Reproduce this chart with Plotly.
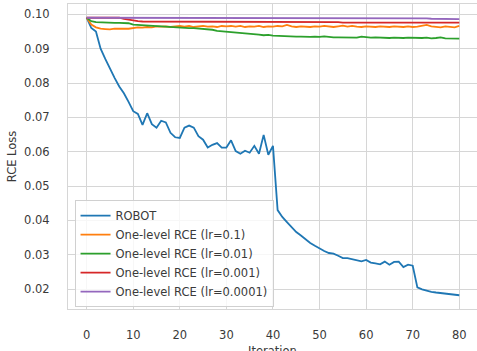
import plotly.graph_objects as go

iterations = list(range(81))

robot = [0.0990, 0.0960, 0.0950, 0.0900, 0.0870, 0.0840, 0.0815, 0.0790, 0.0770, 0.0745,
         0.0718, 0.0710, 0.0678, 0.0712, 0.0680, 0.0670, 0.0690, 0.0685, 0.0655, 0.0642,
         0.0640, 0.0670, 0.0676, 0.0670, 0.0645, 0.0635, 0.0612, 0.0620, 0.0625, 0.0612,
         0.0612, 0.0633, 0.0602, 0.0594, 0.0603, 0.0597, 0.0617, 0.0594, 0.0649, 0.0591,
         0.0617, 0.0430, 0.0410, 0.0395, 0.0380, 0.0366, 0.0356, 0.0345, 0.0334, 0.0326,
         0.0318, 0.0311, 0.0305, 0.0303, 0.0297, 0.0290, 0.0290, 0.0287, 0.0284, 0.0281,
         0.0285, 0.0277, 0.0275, 0.0272, 0.0280, 0.0271, 0.0279, 0.0280, 0.0264, 0.0271,
         0.0268, 0.0205, 0.0199, 0.0195, 0.0192, 0.0190, 0.0188, 0.0187, 0.0185, 0.0184,
         0.0182]

rce_lr_0_1 = [0.0990, 0.0970, 0.0962, 0.0958, 0.0957, 0.0956, 0.0958, 0.0959, 0.0958, 0.0958,
              0.0960, 0.0962, 0.0961, 0.0963, 0.0962, 0.0965, 0.0964, 0.0965, 0.0963, 0.0964,
              0.0966, 0.0964, 0.0966, 0.0963, 0.0965, 0.0966, 0.0964, 0.0965, 0.0963, 0.0966,
              0.0965, 0.0966, 0.0964, 0.0966, 0.0963, 0.0965, 0.0964, 0.0966, 0.0963, 0.0965,
              0.0964, 0.0966, 0.0965, 0.0969, 0.0965, 0.0963, 0.0965, 0.0964, 0.0963, 0.0965,
              0.0964, 0.0966, 0.0964, 0.0963, 0.0965, 0.0967, 0.0964, 0.0966, 0.0964, 0.0963,
              0.0965, 0.0964, 0.0963, 0.0965, 0.0964, 0.0963, 0.0965, 0.0964, 0.0963, 0.0965,
              0.0963, 0.0964, 0.0966, 0.0969, 0.0965, 0.0964, 0.0962, 0.0965, 0.0963, 0.0962,
              0.0966]

rce_lr_0_01 = [0.0990, 0.0980, 0.0977, 0.0976, 0.0976, 0.0976, 0.0975, 0.0975, 0.0975, 0.0974,
               0.0970, 0.0969, 0.0968, 0.0968, 0.0967, 0.0966, 0.0966, 0.0965, 0.0963, 0.0962,
               0.0961, 0.0961, 0.0960, 0.0960, 0.0959, 0.0957, 0.0956, 0.0955, 0.0952, 0.0951,
               0.0950, 0.0948, 0.0947, 0.0946, 0.0945, 0.0944, 0.0942, 0.0941, 0.0939, 0.0940,
               0.0938, 0.0937, 0.0937, 0.0936, 0.0936, 0.0935, 0.0935, 0.0934, 0.0934, 0.0935,
               0.0934, 0.0936, 0.0934, 0.0933, 0.0933, 0.0933, 0.0932, 0.0932, 0.0932, 0.0935,
               0.0933, 0.0932, 0.0933, 0.0932, 0.0932, 0.0931, 0.0932, 0.0931, 0.0931, 0.0932,
               0.0931, 0.0931, 0.0931, 0.0932, 0.0930, 0.0931, 0.0933, 0.0930, 0.0930, 0.0930,
               0.0929]

rce_lr_0_001 = [0.0990] * 8 + [0.0987, 0.0984, 0.0982, 0.0980, 0.0979, 0.0979, 0.0978] + \
               [0.0977] * 40 + [0.0976] * 26

rce_lr_0_0001 = [0.0990] * 66 + [0.0990, 0.0989, 0.0989, 0.0989, 0.0988, 0.0988, 0.0988,
                                 0.0988, 0.0987, 0.0987, 0.0987, 0.0987, 0.0986, 0.0986, 0.0986]

series_names = ["ROBOT", "One-level RCE (lr=0.1)", "One-level RCE (lr=0.01)",
                "One-level RCE (lr=0.001)", "One-level RCE (lr=0.0001)"]
series_values = [robot, rce_lr_0_1, rce_lr_0_01, rce_lr_0_001, rce_lr_0_0001]
colors = ["#1f77b4", "#ff7f0e", "#2ca02c", "#d62728", "#9467bd"]

x_ticks = [0, 10, 20, 30, 40, 50, 60, 70, 80]
y_ticks = [0.02, 0.03, 0.04, 0.05, 0.06, 0.07, 0.08, 0.09, 0.10]
y_tick_labels = ["0.02", "0.03", "0.04", "0.05", "0.06", "0.07", "0.08", "0.09", "0.10"]
x_title = "Iteration"
y_title = "RCE Loss"

fig = go.Figure()
for name, vals, c in zip(series_names, series_values, colors):
    fig.add_trace(go.Scatter(x=iterations, y=vals, mode="lines", name=name,
                             line=dict(color=c, width=1.8)))

font_family = "DejaVu Sans"
text_color = "#3a3a3a"
grid_color = "#d6d6d6"

fig.update_layout(
    width=477, height=351,
    margin=dict(l=68, r=0, t=4, b=42, autoexpand=False),
    paper_bgcolor="white", plot_bgcolor="white",
    font=dict(family=font_family, size=11.5, color=text_color),
    showlegend=True,
    legend=dict(x=0.016, y=0.006, xanchor="left", yanchor="bottom",
                bgcolor="rgba(255,255,255,0.8)", bordercolor="#d0d0d0", borderwidth=1,
                font=dict(size=11.5, color=text_color), itemwidth=30,
                tracegroupgap=0),
    xaxis=dict(range=[-4, 83.8], tickvals=x_ticks, showgrid=True, gridcolor=grid_color,
               gridwidth=1, zeroline=False, showline=True, linecolor=grid_color, mirror=True,
               ticks="outside", ticklen=15, tickcolor="rgba(0,0,0,0)", automargin=False),
    yaxis=dict(range=[0.0142, 0.1030], tickvals=y_ticks, ticktext=y_tick_labels,
               showgrid=True, gridcolor=grid_color, gridwidth=1, zeroline=False,
               showline=True, linecolor=grid_color, mirror=True, automargin=False,
               ticks="outside", ticklen=15, tickcolor="rgba(0,0,0,0)",
               title=dict(text=y_title, standoff=5, font=dict(size=11.5))),
    annotations=[dict(text=x_title, xref="paper", yref="paper", x=0.5, y=0,
                      xanchor="center", yanchor="top", yshift=-33, showarrow=False,
                      font=dict(size=11.5, color=text_color))],
)

fig.write_html("out.html", config={"displayModeBar": False},
               post_script="document.body.style.margin='0';document.body.style.overflow='hidden';")
